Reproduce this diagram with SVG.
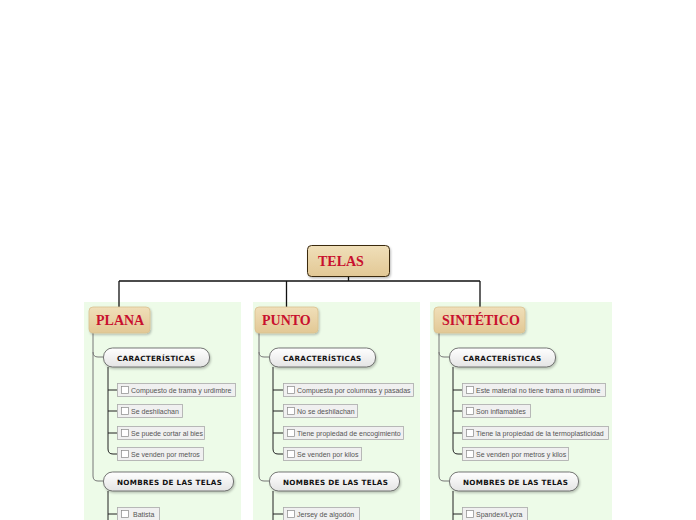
<svg xmlns="http://www.w3.org/2000/svg" width="696" height="520" viewBox="0 0 696 520">
<defs>
<linearGradient id="tan" x1="0" y1="0" x2="0" y2="1"><stop offset="0" stop-color="#f0dfb9"/><stop offset="1" stop-color="#e2c895"/></linearGradient>
<linearGradient id="pill" x1="0" y1="0" x2="0" y2="1"><stop offset="0" stop-color="#ffffff"/><stop offset="1" stop-color="#e4e4e4"/></linearGradient>
<filter id="sh" x="-10%" y="-10%" width="130%" height="140%"><feDropShadow dx="1" dy="1.5" stdDeviation="1" flood-color="#000" flood-opacity="0.25"/></filter>
</defs>
<style>
.panel{fill:#edfbe8}
.root{fill:url(#tan);stroke:#3a2a10;stroke-width:1}
.main{fill:url(#tan);stroke:#d9c190;stroke-width:0.8}
.rt{font-family:"Liberation Serif",serif;font-weight:bold;font-size:14px;fill:#c8102e}
.pl{fill:url(#pill);stroke:#555;stroke-width:0.8}
.pt{font-family:"DejaVu Sans",sans-serif;font-weight:bold;font-size:7.2px;fill:#111;letter-spacing:0.3px}
.it{fill:#f0f0f0;stroke:#aaa;stroke-width:0.8}
.cb{fill:#fff;stroke:#888;stroke-width:0.7}
.itt{font-family:"Liberation Sans",sans-serif;font-size:7px;fill:#555}
.c1{fill:none;stroke:#111;stroke-width:1.3}
.c2{fill:none;stroke:#777;stroke-width:1}
.c3{fill:none;stroke:#222;stroke-width:1}
</style>
<rect class="panel" x="84" y="302" width="157" height="218"/>
<rect class="panel" x="253" y="302" width="167" height="218"/>
<rect class="panel" x="430" y="302" width="182" height="218"/>
<g id="connectors">
<path class="c1" d="M348.5 276V281M119 281H480M119 281V307M286.5 281V307M480 281V307"/>
<path class="c2" d="M93 333V352Q93 357 98 357H103M93 352V476Q93 481 98 481H103"/>
<path class="c3" d="M108 367V449Q108 454 113 454H117M108 390H117M108 411H117M108 433H117"/>
<path class="c3" d="M108 491V520M108 514H117" stroke-width="1.5"/>
<path class="c2" d="M259 333V352Q259 357 264 357H269M259 352V476Q259 481 264 481H269"/>
<path class="c3" d="M273 367V449Q273 454 278 454H283M273 390H283M273 411H283M273 433H283"/>
<path class="c3" d="M273 491V520M273 514H283" stroke-width="1.5"/>
<path class="c2" d="M439 333V352Q439 357 444 357H449M439 352V476Q439 481 444 481H449"/>
<path class="c3" d="M453 367V449Q453 454 458 454H462M453 390H462M453 411H462M453 433H462"/>
<path class="c3" d="M453 491V520M453 514H462" stroke-width="1.5"/>
</g>
<g id="telas"><rect class="root" x="307.5" y="245.5" width="82" height="31" rx="4" filter="url(#sh)"/><text class="rt" x="318" y="265.5" font-size="13">TELAS</text></g>
<g id="plana"><rect class="main" x="89" y="307" width="61" height="26" rx="4" filter="url(#sh)"/><text class="rt" x="96" y="325">PLANA</text></g>
<g id="punto"><rect class="main" x="255" y="307" width="63" height="26" rx="4" filter="url(#sh)"/><text class="rt" x="262" y="325">PUNTO</text></g>
<g id="sintetico"><rect class="main" x="434" y="307" width="91" height="26" rx="4" filter="url(#sh)"/><text class="rt" x="442" y="325">SINTÉTICO</text></g>

<g id="plana-car"><rect class="pl" x="103.5" y="348" width="106" height="19" rx="9" filter="url(#sh)"/><text class="pt" x="117" y="360.5">CARACTERÍSTICAS</text></g>
<g id="plana-c1"><rect class="it" x="117.5" y="383.5" width="118" height="13"/><rect class="cb" x="121.5" y="386.5" width="7" height="7"/><text class="itt" x="131" y="392.5">Compuesto de trama y urdimbre</text></g>
<g id="plana-c2"><rect class="it" x="117.5" y="404.5" width="65" height="13"/><rect class="cb" x="121.5" y="407.5" width="7" height="7"/><text class="itt" x="131" y="413.5">Se deshilachan</text></g>
<g id="plana-c3"><rect class="it" x="117.5" y="426.5" width="87" height="13"/><rect class="cb" x="121.5" y="429.5" width="7" height="7"/><text class="itt" x="131" y="435.5">Se puede cortar al bies</text></g>
<g id="plana-c4"><rect class="it" x="117.5" y="447.5" width="86" height="13"/><rect class="cb" x="121.5" y="450.5" width="7" height="7"/><text class="itt" x="131" y="456.5">Se venden por metros</text></g>
<g id="plana-nom"><rect class="pl" x="103.5" y="472" width="130" height="19" rx="9" filter="url(#sh)"/><text class="pt" x="117" y="484.5">NOMBRES DE LAS TELAS</text></g>
<g id="plana-n1"><rect class="it" x="117.5" y="507.5" width="42" height="13"/><rect class="cb" x="121.5" y="510.5" width="7" height="7"/><text class="itt" x="133" y="516.5">Batista</text></g>

<g id="punto-car"><rect class="pl" x="269.5" y="348" width="106" height="19" rx="9" filter="url(#sh)"/><text class="pt" x="283" y="360.5">CARACTERÍSTICAS</text></g>
<g id="punto-c1"><rect class="it" x="283.5" y="383.5" width="130" height="13"/><rect class="cb" x="287.5" y="386.5" width="7" height="7"/><text class="itt" x="297" y="392.5">Compuesta por columnas y pasadas</text></g>
<g id="punto-c2"><rect class="it" x="283.5" y="404.5" width="74" height="13"/><rect class="cb" x="287.5" y="407.5" width="7" height="7"/><text class="itt" x="297" y="413.5">No se deshilachan</text></g>
<g id="punto-c3"><rect class="it" x="283.5" y="426.5" width="120" height="13"/><rect class="cb" x="287.5" y="429.5" width="7" height="7"/><text class="itt" x="297" y="435.5">Tiene propiedad de encogimiento</text></g>
<g id="punto-c4"><rect class="it" x="283.5" y="447.5" width="78" height="13"/><rect class="cb" x="287.5" y="450.5" width="7" height="7"/><text class="itt" x="297" y="456.5">Se venden por kilos</text></g>
<g id="punto-nom"><rect class="pl" x="269.5" y="472" width="130" height="19" rx="9" filter="url(#sh)"/><text class="pt" x="283" y="484.5">NOMBRES DE LAS TELAS</text></g>
<g id="punto-n1"><rect class="it" x="283.5" y="507.5" width="76" height="13"/><rect class="cb" x="287.5" y="510.5" width="7" height="7"/><text class="itt" x="297" y="516.5">Jersey de algodón</text></g>

<g id="sint-car"><rect class="pl" x="449.5" y="348" width="106" height="19" rx="9" filter="url(#sh)"/><text class="pt" x="463" y="360.5">CARACTERÍSTICAS</text></g>
<g id="sint-c1"><rect class="it" x="462.5" y="383.5" width="143" height="13"/><rect class="cb" x="466.5" y="386.5" width="7" height="7"/><text class="itt" x="476" y="392.5">Este material no tiene trama ni urdimbre</text></g>
<g id="sint-c2"><rect class="it" x="462.5" y="404.5" width="68" height="13"/><rect class="cb" x="466.5" y="407.5" width="7" height="7"/><text class="itt" x="476" y="413.5">Son inflamables</text></g>
<g id="sint-c3"><rect class="it" x="462.5" y="426.5" width="146" height="13"/><rect class="cb" x="466.5" y="429.5" width="7" height="7"/><text class="itt" x="476" y="435.5">Tiene la propiedad de la termoplasticidad</text></g>
<g id="sint-c4"><rect class="it" x="462.5" y="447.5" width="106" height="13"/><rect class="cb" x="466.5" y="450.5" width="7" height="7"/><text class="itt" x="476" y="456.5">Se venden por metros y kilos</text></g>
<g id="sint-nom"><rect class="pl" x="449.5" y="472" width="129" height="19" rx="9" filter="url(#sh)"/><text class="pt" x="463" y="484.5">NOMBRES DE LAS TELAS</text></g>
<g id="sint-n1"><rect class="it" x="462.5" y="507.5" width="65" height="13"/><rect class="cb" x="466.5" y="510.5" width="7" height="7"/><text class="itt" x="476" y="516.5">Spandex/Lycra</text></g>
</svg>
